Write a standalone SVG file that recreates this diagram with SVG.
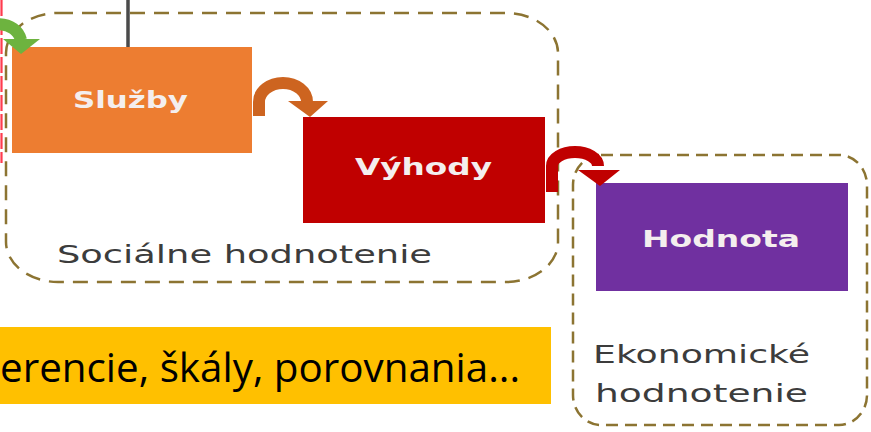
<svg xmlns="http://www.w3.org/2000/svg" width="871" height="432" viewBox="0 0 871 432">
<style>
.grp{fill:none;stroke:#8C7432;stroke-width:2.5;stroke-dasharray:15 9}
.lbl{font-family:"DejaVu Sans",Verdana,sans-serif;font-weight:bold;font-size:23px;fill:#F4EEEE}
.cap{font-family:"DejaVu Sans",Verdana,sans-serif;font-size:24px;fill:#3C3C3C}
.note{font-family:"Open Sans","Liberation Sans",sans-serif;font-size:40px;fill:#000}
.arr{fill:none;stroke-width:12}
</style>
<rect width="871" height="432" fill="#FFFFFF"/>
<g id="lines">
<line x1="1.5" y1="0" x2="1.5" y2="163" stroke="#FF3B4E" stroke-width="2.2" stroke-dasharray="16 3"/>
<line x1="128" y1="0" x2="128" y2="47" stroke="#4A4A4A" stroke-width="3.5"/>
</g>
<g id="social-group">
<rect class="grp" x="6" y="13" width="552" height="269" rx="52" ry="40"/>
<text class="cap" x="57" y="263" textLength="375" lengthAdjust="spacingAndGlyphs">Sociálne hodnotenie</text>
</g>
<g id="economic-group">
<rect class="grp" x="573" y="155" width="294" height="270" rx="28" ry="30" style="stroke-dasharray:12 7"/>
<text class="cap" x="593" y="363" textLength="217" lengthAdjust="spacingAndGlyphs">Ekonomické</text>
<text class="cap" x="595" y="402" textLength="213" lengthAdjust="spacingAndGlyphs">hodnotenie</text>
</g>
<g id="sluzby">
<rect x="12" y="47" width="240" height="106" fill="#ED7D31"/>
<text class="lbl" x="73" y="108" textLength="115" lengthAdjust="spacingAndGlyphs">Služby</text>
</g>
<g id="vyhody">
<rect x="303" y="117" width="242" height="106" fill="#C00000"/>
<text class="lbl" x="355" y="175" textLength="137" lengthAdjust="spacingAndGlyphs">Výhody</text>
</g>
<g id="hodnota">
<rect x="596" y="183" width="252" height="108" fill="#7030A0"/>
<text class="lbl" x="642" y="247" textLength="158" lengthAdjust="spacingAndGlyphs">Hodnota</text>
</g>
<g id="connectors">
<path class="arr" stroke="#6DB33F" d="M-22,44 L-22,40 A22,20 0 0 1 21,40"/>
<polygon fill="#6DB33F" points="3,39 40,39 21,54"/>
<path class="arr" stroke="#CD6420" d="M259,116 L259,102 A24,19 0 0 1 307,102"/>
<polygon fill="#CD6420" points="288,101 328,101 310,117"/>
<path class="arr" stroke="#C00000" d="M552,192 L552,166 A23,14 0 0 1 598,166"/>
<polygon fill="#C00000" points="578,170 620,170 600,186"/>
</g>
<g id="note">
<rect x="0" y="327" width="551" height="77" fill="#FFC000"/>
<text class="note" x="0" y="382" textLength="520" lengthAdjust="spacingAndGlyphs">erencie, škály, porovnania...</text>
</g>
</svg>
